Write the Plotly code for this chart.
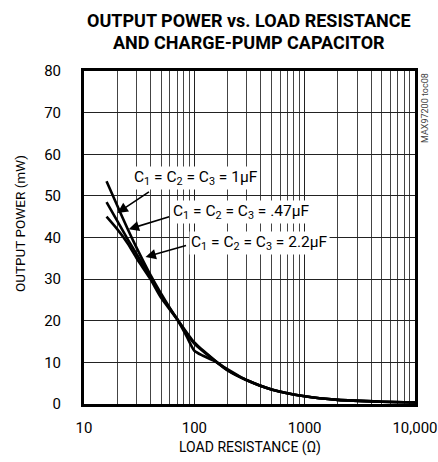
import math
import plotly.graph_objects as go

# ---- data ----
r_a = [16, 20, 25, 30, 40, 50, 70, 100, 150, 200, 300, 500, 1000, 2000, 5000, 10000]
p_a = [53.5, 47.7, 41.9, 37.5, 31.0, 26.5, 20.3, 14.5, 10.6, 8.1, 5.7, 3.5, 1.85, 1.0, 0.55, 0.35]  # 2.2uF

r_b = [16, 20, 25, 30, 40, 50, 70, 100, 150, 200, 300, 500, 1000, 2000, 5000, 10000]
p_b = [48.5, 44.0, 39.5, 36.0, 30.5, 26.0, 20.4, 14.8, 10.7, 8.1, 5.7, 3.5, 1.85, 1.0, 0.55, 0.35]  # 1uF

r_c = [16, 20, 25, 30, 40, 50, 70, 85, 100, 120, 150, 180, 300, 500, 1000, 2000, 5000, 10000]
p_c = [45.0, 42.0, 38.5, 35.0, 30.0, 25.5, 20.3, 16.3, 12.8, 11.6, 10.4, 9.1, 5.7, 3.5, 1.85, 1.0, 0.55, 0.35]  # 0.47uF

x_ticks = [10, 100, 1000, 10000]
x_tick_text = ["10", "100", "1000", "10,000"]
y_ticks = [0, 10, 20, 30, 40, 50, 60, 70, 80]

labels = ["C<sub>1</sub> = C<sub>2</sub> = C<sub>3</sub> = 1µF",
          "C<sub>1</sub> = C<sub>2</sub> = C<sub>3</sub> = .47µF",
          "C<sub>1</sub> = C<sub>2</sub> = C<sub>3</sub> = 2.2µF"]
arrow_tip_r = [20.1, 25.4, 36.1]
arrow_tip_p = [45.9, 42.0, 35.3]

FONT = "Roboto, Liberation Sans, sans-serif"

fig = go.Figure()
for r, p in [(r_a, p_a), (r_b, p_b), (r_c, p_c)]:
    fig.add_trace(go.Scatter(x=r, y=p, mode="lines",
                             line=dict(color="black", width=2.6, shape="spline", smoothing=0.6),
                             showlegend=False, hoverinfo="skip"))

W, H = 438, 462
ml, mr, mt, mb = 84, 23, 71, 58
pw, ph = W - ml - mr, H - mt - mb


def px(xp):
    return (xp - ml) / pw


def py(yp):
    return (H - mb - yp) / ph


fig.update_layout(
    width=W, height=H,
    margin=dict(l=ml, r=mr, t=mt, b=mb, autoexpand=False),
    paper_bgcolor="white", plot_bgcolor="white",
    font=dict(family=FONT, color="black", size=15),
    xaxis=dict(type="log", range=[1 - 1e-4, 4 + 1e-4], tickvals=x_ticks, ticktext=x_tick_text,
               showgrid=True, gridcolor="#222", gridwidth=1,
               minor=dict(dtick="D1", showgrid=True, gridcolor="#444", gridwidth=1, ticks=""),
               showline=True, linecolor="black", linewidth=3, mirror=True,
               ticks="", zeroline=False, automargin=False, ticklabelstandoff=8,
               tickfont=dict(size=15)),
    yaxis=dict(range=[0, 80], tickvals=y_ticks, showgrid=True, gridcolor="#222", gridwidth=1,
               showline=True, linecolor="black", linewidth=3, mirror=True,
               ticks="", zeroline=False, automargin=False, ticklabelstandoff=17,
               tickfont=dict(size=15)),
)

# title lines
fig.add_annotation(x=px(249), y=py(20), xref="paper", yref="paper", showarrow=False,
                   text="<b>OUTPUT POWER vs. LOAD RESISTANCE</b>", yanchor="middle",
                   font=dict(size=18, family=FONT))
fig.add_annotation(x=px(249), y=py(43), xref="paper", yref="paper", showarrow=False,
                   text="<b>AND CHARGE-PUMP CAPACITOR</b>", yanchor="middle",
                   font=dict(size=18, family=FONT))
# axis titles
fig.add_annotation(x=px(250), y=py(447), xref="paper", yref="paper", showarrow=False,
                   text="LOAD RESISTANCE (Ω)", yanchor="middle", font=dict(size=14))
fig.add_annotation(x=px(20), y=py(224), xref="paper", yref="paper", showarrow=False,
                   text="OUTPUT POWER (mW)", textangle=-90, xanchor="center", yanchor="middle",
                   font=dict(size=13.5))

label_pos = [(px(132), py(178)), (px(171), py(212)), (px(189), py(243))]
arrow_off = [(33, -22), (42, -13), (42, -12)]

for i in range(3):
    fig.add_annotation(x=math.log10(arrow_tip_r[i]), y=arrow_tip_p[i], xref="x", yref="y",
                       text="", showarrow=True, ax=arrow_off[i][0], ay=arrow_off[i][1],
                       arrowhead=2, arrowsize=1.3, arrowwidth=1.6, arrowcolor="black")
    fig.add_annotation(x=label_pos[i][0], y=label_pos[i][1], xref="paper", yref="paper",
                       text=labels[i], showarrow=False, xanchor="left", yanchor="middle",
                       bgcolor="white", borderpad=1, font=dict(size=15.5))

fig.add_annotation(x=1.0, y=1.0, xref="paper", yref="paper", text="MAX97200 toc08",
                   showarrow=False, textangle=-90, xanchor="left", yanchor="top", xshift=3,
                   font=dict(size=9, color="#444"))

fig.write_html("out.html", config={"displayModeBar": False},
               post_script="document.body.style.margin='0';")
